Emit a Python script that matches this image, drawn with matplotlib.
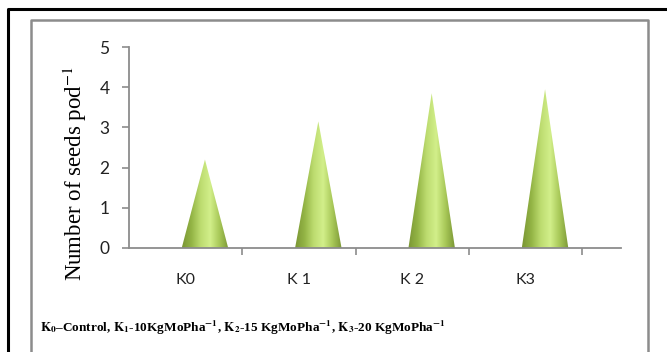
import matplotlib
import matplotlib.pyplot as plt
import numpy as np
from matplotlib.colors import LinearSegmentedColormap
from matplotlib.lines import Line2D
from matplotlib.patches import Polygon

matplotlib.use("Agg")

categories = ["K0", "K 1", "K 2", "K3"]
seeds_per_pod = [2.2, 3.15, 3.85, 3.95]
yticks = [0, 1, 2, 3, 4, 5]

caption = (r"$\mathbf{K_0}$–Control, $\mathbf{K_1}$-10KgMoPha$^{\mathbf{-1}}$, "
           r"$\mathbf{K_2}$-15 KgMoPha$^{\mathbf{-1}}$, $\mathbf{K_3}$-20 KgMoPha$^{\mathbf{-1}}$")

cone_cmap = LinearSegmentedColormap.from_list(
    "cone",
    ["#7a9634", "#93b445", "#bddc70", "#d2ef8a", "#a8c858", "#7b9735"],
)

plt.rcParams["mathtext.fontset"] = "stix"
fig = plt.figure(figsize=(6.67, 3.52), dpi=100)

# outer black frame (left + top) and inner gray chart-area frame
fx = lambda px: px / 667
fy = lambda py: 1 - py / 352
fig.add_artist(Line2D([fx(8), fx(8), 1.0], [0, fy(9), fy(9)], transform=fig.transFigure,
                      color="black", linewidth=2.2))
fig.add_artist(Line2D([fx(31), fx(31), fx(648), fx(648)], [0, fy(20), fy(20), 0],
                      transform=fig.transFigure, color="#8c8c8c", linewidth=1.8))

ax = fig.add_axes([fx(129), fy(248), (621 - 129) / 667, (248 - 47) / 352])

grad = np.linspace(0, 1, 256).reshape(1, -1)
offset = 0.17
half_w = 0.205
for i, val in enumerate(seeds_per_pod):
    c = i + 0.5 + offset
    tri = Polygon([(c - half_w, 0), (c + half_w, 0), (c, val)], closed=True,
                  facecolor="none", edgecolor="none")
    ax.add_patch(tri)
    im = ax.imshow(grad, cmap=cone_cmap, aspect="auto",
                   extent=(c - half_w, c + half_w, 0, val), zorder=2)
    im.set_clip_path(tri)

ax.set_xlim(0, 4.34)
ax.set_ylim(0, 5)

for side in ["top", "right"]:
    ax.spines[side].set_visible(False)
for side in ["left", "bottom"]:
    ax.spines[side].set_color("#8c8c8c")
    ax.spines[side].set_linewidth(1.3)

ax.set_yticks(yticks)
ax.set_yticklabels([str(t) for t in yticks], fontsize=12.5, family="Lato", color="#222222")
ax.tick_params(axis="y", length=5, color="#8c8c8c", width=1.2, pad=9)

ax.set_xticks([1, 2, 3, 4])
ax.set_xticklabels([])
ax.tick_params(axis="x", length=5, color="#8c8c8c", width=1.2)
for i, lab in enumerate(categories):
    ax.text(i + 0.5, -0.8, lab, ha="center", va="center", fontsize=11.5,
            family="Lato", color="#222222")

fig.text(fx(75), fy(174), r"Number of seeds pod$^{-1}$", rotation=90,
         ha="center", va="center", fontsize=16.5, family="Liberation Serif")

fig.text(fx(40), fy(328), caption, ha="left", va="center", fontsize=9.5,
         family="Liberation Serif", fontweight="bold")

fig.savefig("out.png", dpi=100)
